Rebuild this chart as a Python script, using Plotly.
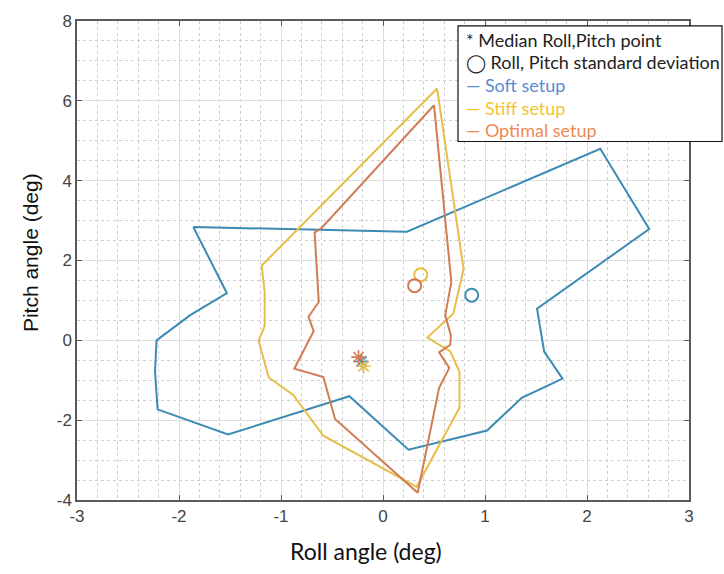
import plotly.graph_objects as go

# ---- data ----
soft_roll = [-1.86, 0.235, 2.13, 2.61, 1.51, 1.58, 1.76, 1.36, 1.02, 0.25, -0.33, -1.52, -2.21, -2.235, -2.22, -1.89, -1.53, -1.86]
soft_pitch = [2.84, 2.72, 4.80, 2.79, 0.79, -0.28, -0.96, -1.44, -2.26, -2.74, -1.40, -2.36, -1.73, -0.78, 0.00, 0.63, 1.18, 2.84]

stiff_roll = [0.53, 0.79, 0.69, 0.435, 0.66, 0.75, 0.75, 0.33, -0.585, -0.88, -1.12, -1.22, -1.16, -1.16, -1.19, 0.53]
stiff_pitch = [6.31, 1.79, 0.67, 0.07, -0.28, -0.79, -1.69, -3.67, -2.39, -1.37, -0.93, -0.01, 0.36, 1.21, 1.87, 6.31]

opt_roll = [0.50, 0.67, 0.61, 0.665, 0.66, 0.55, 0.65, 0.55, 0.34, -0.47, -0.585, -0.87, -0.68, -0.73, -0.63, -0.67, -0.60, 0.50]
opt_pitch = [5.89, 1.46, 0.63, 0.13, -0.11, -0.30, -0.69, -1.19, -3.82, -1.97, -0.92, -0.71, 0.23, 0.59, 0.96, 2.70, 2.82, 5.89]

setups = ["Soft setup", "Stiff setup", "Optimal setup"]
median_roll = [-0.21, -0.19, -0.24]
median_pitch = [-0.53, -0.65, -0.42]
std_roll = [0.87, 0.37, 0.31]
std_pitch = [1.13, 1.64, 1.37]

x_ticks = [-3, -2, -1, 0, 1, 2, 3]
y_ticks = [-4, -2, 0, 2, 4, 6, 8]

legend_lines = ["* Median Roll,Pitch point", "◯ Roll, Pitch standard deviation",
                "— Soft setup", "— Stiff setup", "— Optimal setup"]

# ---- styles ----
line_colors = ["#3B8BB4", "#E6BE48", "#D27B55"]
legend_colors = ["#222222", "#222222", "#5B8BD0", "#F2C430", "#EE8A52"]

fig = go.Figure()
polys = [(soft_roll, soft_pitch), (stiff_roll, stiff_pitch), (opt_roll, opt_pitch)]
for (xr, yp), name, c in zip(polys, setups, line_colors):
    fig.add_trace(go.Scatter(x=xr, y=yp, mode="lines", name=name,
                             line=dict(color=c, width=2), showlegend=False))

for i, c in enumerate(line_colors):
    fig.add_trace(go.Scatter(x=[std_roll[i]], y=[std_pitch[i]], mode="markers",
                             marker=dict(symbol="circle-open", size=13, color=c, line=dict(width=2, color=c)),
                             showlegend=False))
for i, c in enumerate(line_colors):
    fig.add_trace(go.Scatter(x=[median_roll[i]], y=[median_pitch[i]], mode="markers",
                             marker=dict(symbol="asterisk-open", size=12, color=c, line=dict(width=1.6, color=c)),
                             showlegend=False))

axis_common = dict(
    showline=True, linecolor="#5a5a5a", linewidth=1.5, mirror="ticks",
    ticks="inside", ticklen=5, tickcolor="#5a5a5a", tickwidth=1,
    showgrid=True, gridcolor="#dedede", gridwidth=1, zeroline=False,
    tickfont=dict(family="Liberation Sans, Arial", size=17, color="#444444"),
)
fig.update_xaxes(range=[-3, 3], tickvals=x_ticks, ticktext=[str(v) for v in x_ticks],
                 minor=dict(dtick=0.2, showgrid=True, griddash="dot", gridcolor="#cfcfcf", gridwidth=1),
                 **axis_common)
fig.update_yaxes(range=[-4, 8], tickvals=y_ticks, ticktext=[str(v) for v in y_ticks],
                 minor=dict(dtick=0.5, showgrid=True, griddash="dot", gridcolor="#cfcfcf", gridwidth=1),
                 **axis_common)

W, H = 724, 574
ml, mr, mt, mb = 77, 35, 15, 74
pw, ph = W - ml - mr, H - mt - mb

def px_x(p):
    return (p - ml) / pw

def px_y(p):
    return (H - mb - p) / ph

# legend box (text box pasted on chart)
fig.add_shape(type="rect", xref="paper", yref="paper",
              x0=px_x(458), x1=px_x(722), y0=px_y(137), y1=px_y(20),
              line=dict(color="#111111", width=1.2), fillcolor="white", layer="above")
ys = [34, 57, 80, 103, 125]
for t, c, yy in zip(legend_lines, legend_colors, ys):
    fig.add_annotation(xref="paper", yref="paper", x=px_x(464), y=px_y(yy), text=t,
                       showarrow=False, xanchor="left", yanchor="middle",
                       font=dict(family="Lato, Open Sans, sans-serif", size=18, color=c))

# axis titles
fig.add_annotation(xref="paper", yref="paper", x=px_x(366), y=px_y(552), text="Roll angle (deg)",
                   showarrow=False, xanchor="center", yanchor="middle",
                   font=dict(family="Lato, Open Sans, sans-serif", size=23, color="#111111"))
fig.add_annotation(xref="paper", yref="paper", x=px_x(30), y=px_y(250), text="Pitch angle (deg)",
                   showarrow=False, xanchor="center", yanchor="middle", textangle=-90,
                   font=dict(family="Liberation Sans, Arial", size=21, color="#111111"))

fig.update_layout(width=W, height=H, margin=dict(l=ml, r=mr, t=mt, b=mb),
                  plot_bgcolor="white", paper_bgcolor="white", showlegend=False)

fig.write_html("out.html")
